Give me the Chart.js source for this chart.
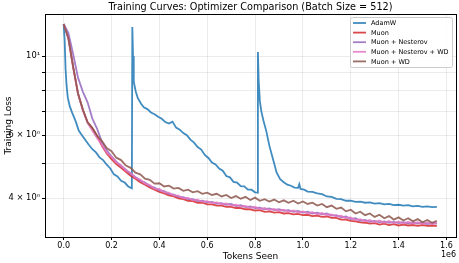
<!DOCTYPE html>
<html lang="en">
<head>
    <meta charset="UTF-8">
    <title>Training Curves</title>
    <script src="https://cdn.jsdelivr.net/npm/chart.js"></script>
    <style>
        body { margin: 0; padding: 0; background: #fff; }
        #chart { display: block; }
    </style>
</head>
<body>
    <canvas id="chart" width="459" height="263"></canvas>
    <script>
        // tokens seen, in units of 1e6
        const tokensAdam = [0, 0.004, 0.008, 0.012, 0.017, 0.025, 0.035, 0.05, 0.063, 0.075, 0.09, 0.105, 0.12, 0.135, 0.15, 0.165, 0.18, 0.195, 0.21, 0.225, 0.24, 0.255, 0.27, 0.285,
            0.287, 0.29, 0.293, 0.297, 0.302, 0.31, 0.323, 0.335, 0.35, 0.365, 0.38, 0.395, 0.41, 0.425, 0.44, 0.455, 0.47, 0.485, 0.5, 0.515, 0.53, 0.545, 0.56, 0.575, 0.59, 0.605, 0.62, 0.635, 0.65, 0.665, 0.68, 0.695, 0.71, 0.725, 0.74, 0.755, 0.77, 0.785, 0.8, 0.81,
            0.812, 0.815, 0.82, 0.826, 0.835, 0.847, 0.86, 0.876, 0.89, 0.905, 0.92, 0.935, 0.95, 0.965, 0.98, 0.985, 0.99, 1.005, 1.02, 1.04, 1.06, 1.08, 1.1, 1.12, 1.14, 1.16, 1.18, 1.2, 1.22, 1.24, 1.26, 1.28, 1.3, 1.32, 1.34, 1.36, 1.38, 1.4, 1.42, 1.44, 1.46, 1.48, 1.5, 1.52, 1.54, 1.56];
        const adamw = [12.3, 11.1, 9.2, 8.3, 7.67, 7.25, 6.95, 6.57, 6.18, 6.02, 5.83, 5.64, 5.48, 5.37, 5.2, 5.11, 4.96, 4.84, 4.66, 4.6, 4.47, 4.42, 4.31, 4.26,
            12.06, 10.0, 8.51, 8.2, 7.93, 7.62, 7.36, 7.18, 7.1, 6.95, 6.87, 6.76, 6.67, 6.53, 6.47, 6.55, 6.3, 6.22, 6.08, 6.0, 5.83, 5.72, 5.56, 5.47, 5.28, 5.18, 5.03, 4.97, 4.84, 4.77, 4.61, 4.57, 4.44, 4.42, 4.32, 4.31, 4.22, 4.22, 4.15, 4.14,
            10.26, 8.6, 7.5, 7.01, 6.6, 6.16, 5.6, 5.11, 4.72, 4.52, 4.43, 4.36, 4.33, 4.28, 4.27, 4.37, 4.24, 4.22, 4.17, 4.16, 4.12, 4.1, 4.04, 4.03, 3.98, 3.97, 3.93, 3.93, 3.9, 3.91, 3.88, 3.89, 3.86, 3.87, 3.84, 3.85, 3.82, 3.83, 3.81, 3.82, 3.79, 3.8, 3.78, 3.79, 3.77, 3.78, 3.77];

        const tokensMuon = [0, 0.02, 0.04, 0.06, 0.08, 0.1, 0.12, 0.14, 0.16, 0.18, 0.2, 0.22, 0.24, 0.26, 0.28, 0.3, 0.32, 0.34, 0.36, 0.38, 0.4, 0.42, 0.44, 0.46, 0.48, 0.5, 0.52, 0.54, 0.56, 0.58, 0.6, 0.62, 0.64, 0.66, 0.68, 0.7, 0.72, 0.74, 0.76, 0.78,
            0.8, 0.82, 0.84, 0.86, 0.88, 0.9, 0.92, 0.94, 0.96, 0.98, 1.0, 1.02, 1.04, 1.06, 1.08, 1.1, 1.12, 1.14, 1.16, 1.18, 1.2, 1.22, 1.24, 1.26, 1.28, 1.3, 1.32, 1.34, 1.36, 1.38, 1.4, 1.42, 1.44, 1.46, 1.48, 1.5, 1.52, 1.54, 1.56];
        const muon = [12.3, 11.2, 9.3, 7.85, 7.08, 6.52, 6.28, 5.97, 5.6, 5.33, 5.14, 4.98, 4.86, 4.74, 4.62, 4.53, 4.43, 4.36, 4.28, 4.22, 4.16, 4.12, 4.07, 4.04, 3.99, 3.97, 3.93, 3.92, 3.88, 3.88, 3.84, 3.84, 3.81, 3.81, 3.78, 3.78, 3.75, 3.75, 3.72, 3.72,
            3.69, 3.7, 3.66, 3.67, 3.64, 3.65, 3.62, 3.63, 3.6, 3.61, 3.58, 3.59, 3.56, 3.57, 3.54, 3.55, 3.52, 3.52, 3.48, 3.48, 3.45, 3.44, 3.42, 3.41, 3.39, 3.4, 3.37, 3.39, 3.36, 3.38, 3.35, 3.37, 3.35, 3.36, 3.34, 3.36, 3.34, 3.35, 3.34];
        const muonNesterov = [12.3, 11.6, 10.1, 8.7, 7.95, 7.42, 6.68, 6.25, 5.74, 5.44, 5.23, 5.06, 4.92, 4.8, 4.68, 4.58, 4.48, 4.42, 4.32, 4.28, 4.2, 4.18, 4.11, 4.09, 4.03, 4.02, 3.97, 3.97, 3.92, 3.93, 3.89, 3.9, 3.86, 3.87, 3.83, 3.85, 3.8, 3.82, 3.77, 3.79,
            3.75, 3.76, 3.72, 3.74, 3.7, 3.72, 3.68, 3.7, 3.66, 3.68, 3.64, 3.66, 3.62, 3.64, 3.6, 3.62, 3.57, 3.58, 3.53, 3.55, 3.49, 3.51, 3.45, 3.47, 3.43, 3.45, 3.42, 3.44, 3.41, 3.43, 3.4, 3.42, 3.39, 3.41, 3.39, 3.41, 3.38, 3.4, 3.39];
        const muonNesterovWd = [12.3, 11.2, 9.3, 7.85, 7.05, 6.5, 6.17, 5.88, 5.63, 5.36, 5.22, 5.03, 4.94, 4.78, 4.7, 4.56, 4.51, 4.39, 4.35, 4.25, 4.24, 4.15, 4.14, 4.06, 4.06, 3.99, 4.0, 3.94, 3.96, 3.9, 3.92, 3.87, 3.89, 3.84, 3.86, 3.81, 3.83, 3.78, 3.8, 3.75,
            3.78, 3.72, 3.75, 3.7, 3.73, 3.68, 3.71, 3.66, 3.69, 3.64, 3.67, 3.62, 3.65, 3.6, 3.63, 3.58, 3.6, 3.55, 3.57, 3.51, 3.53, 3.47, 3.49, 3.44, 3.47, 3.42, 3.46, 3.41, 3.45, 3.4, 3.44, 3.39, 3.43, 3.39, 3.42, 3.38, 3.42, 3.38, 3.41];
        const muonWd = [12.3, 11.2, 9.3, 7.85, 7.08, 6.52, 6.28, 5.97, 5.78, 5.52, 5.41, 5.19, 5.11, 4.93, 4.86, 4.71, 4.66, 4.53, 4.5, 4.39, 4.4, 4.31, 4.33, 4.25, 4.27, 4.19, 4.22, 4.15, 4.18, 4.11, 4.14, 4.08, 4.11, 4.04, 4.08, 4.0, 4.05, 3.98, 4.03, 3.95,
            4.01, 3.93, 3.97, 3.91, 3.96, 3.89, 3.94, 3.88, 3.93, 3.86, 3.91, 3.85, 3.88, 3.81, 3.85, 3.77, 3.81, 3.73, 3.76, 3.67, 3.71, 3.62, 3.66, 3.58, 3.62, 3.54, 3.59, 3.51, 3.56, 3.48, 3.53, 3.46, 3.51, 3.44, 3.49, 3.42, 3.47, 3.41, 3.45];

        const seriesNames = ['AdamW', 'Muon', 'Muon + Nesterov', 'Muon + Nesterov + WD', 'Muon + WD'];
        const seriesColors = ['rgba(31,119,180,0.85)', 'rgba(214,39,40,0.85)', 'rgba(148,103,189,0.85)', 'rgba(227,119,194,0.85)', 'rgba(140,86,75,0.85)'];
        const xTicks = [0, 0.2, 0.4, 0.6, 0.8, 1.0, 1.2, 1.4, 1.6];
        const yTicks = [4, 5, 6, 7, 8, 9, 10];
        const yTickLabels = { 4: '4 × 10⁰', 6: '6 × 10⁰', 10: '10¹' };

        const FONT = 'DejaVu Sans';

        function points(xs, ys) {
            return xs.map((x, i) => ({ x: x, y: ys[i] }));
        }

        const allSeries = [
            points(tokensAdam, adamw),
            points(tokensMuon, muon),
            points(tokensMuon, muonNesterov),
            points(tokensMuon, muonNesterovWd),
            points(tokensMuon, muonWd)
        ];

        // frame, title, legend and the 1e6 offset label, drawn like matplotlib does
        const decorations = {
            id: 'decorations',
            afterDraw(chart) {
                const ctx = chart.ctx;
                const a = chart.chartArea;
                ctx.save();
                ctx.strokeStyle = '#000';
                ctx.lineWidth = 1;
                ctx.strokeRect(Math.round(a.left) + 0.5, Math.round(a.top) + 0.5, Math.round(a.right - a.left), Math.round(a.bottom - a.top));

                ctx.fillStyle = '#000';
                ctx.font = '9.7px "' + FONT + '"';
                ctx.textAlign = 'center';
                ctx.textBaseline = 'middle';
                ctx.fillText('Training Curves: Optimizer Comparison (Batch Size = 512)', (a.left + a.right) / 2, 7);

                ctx.font = '8px "' + FONT + '"';
                ctx.textAlign = 'right';
                ctx.fillText('1e6', a.right, 255);

                // legend
                const bx = 350, by = 17, bw = 102, bh = 50;
                ctx.fillStyle = 'rgba(255,255,255,0.85)';
                ctx.strokeStyle = '#cccccc';
                ctx.lineWidth = 1;
                ctx.beginPath();
                ctx.roundRect(bx + 0.5, by + 0.5, bw, bh, 2);
                ctx.fill();
                ctx.stroke();
                ctx.font = '6.5px "' + FONT + '"';
                ctx.textAlign = 'left';
                seriesNames.forEach((name, i) => {
                    const yy = by + 6 + i * 9.6;
                    ctx.strokeStyle = seriesColors[i];
                    ctx.lineWidth = 1.8;
                    ctx.beginPath();
                    ctx.moveTo(bx + 3, yy);
                    ctx.lineTo(bx + 16, yy);
                    ctx.stroke();
                    ctx.fillStyle = '#000';
                    ctx.fillText(name, bx + 21, yy + 0.5);
                });
                ctx.restore();
            }
        };

        const gridOpts = {
            color: 'rgba(0,0,0,0.08)',
            borderDash: [2, 2],
            tickBorderDash: [],
            tickColor: '#000',
            tickLength: 3
        };

        const ctx = document.getElementById('chart').getContext('2d');
        new Chart(ctx, {
            type: 'line',
            data: {
                datasets: seriesNames.map((name, i) => ({
                    label: name,
                    data: allSeries[i],
                    borderColor: seriesColors[i],
                    borderWidth: 1.8,
                    pointRadius: 0,
                    tension: 0,
                    fill: false,
                    order: 4 - i
                }))
            },
            options: {
                responsive: false,
                animation: false,
                layout: { padding: { top: 14, right: 3, left: 0, bottom: 0 } },
                plugins: {
                    legend: { display: false },
                    tooltip: { enabled: false }
                },
                scales: {
                    x: {
                        type: 'linear',
                        min: -0.078,
                        max: 1.64,
                        afterBuildTicks: (scale) => { scale.ticks = xTicks.map(v => ({ value: v })); },
                        afterFit: (scale) => { scale.height = 26; },
                        ticks: {
                            callback: (v) => v.toFixed(1),
                            color: '#000',
                            font: { family: FONT, size: 8 },
                            padding: 1,
                            maxRotation: 0
                        },
                        grid: gridOpts,
                        border: { display: false },
                        title: {
                            display: true,
                            text: 'Tokens Seen',
                            color: '#000',
                            font: { family: FONT, size: 9 },
                            padding: { top: 0, bottom: 1 }
                        }
                    },
                    y: {
                        type: 'logarithmic',
                        min: 3.11,
                        max: 13.12,
                        afterBuildTicks: (scale) => { scale.ticks = yTicks.map(v => ({ value: v })); },
                        afterFit: (scale) => { scale.width = 45; },
                        ticks: {
                            callback: (v) => yTickLabels[v] || '',
                            color: '#000',
                            font: { family: FONT, size: 8.3 },
                            padding: 2,
                            autoSkip: false
                        },
                        grid: gridOpts,
                        border: { display: false },
                        title: {
                            display: true,
                            text: 'Training Loss',
                            color: '#000',
                            font: { family: FONT, size: 9 },
                            padding: { top: 3, bottom: 2 }
                        }
                    }
                }
            },
            plugins: [decorations]
        });
    </script>
</body>
</html>
